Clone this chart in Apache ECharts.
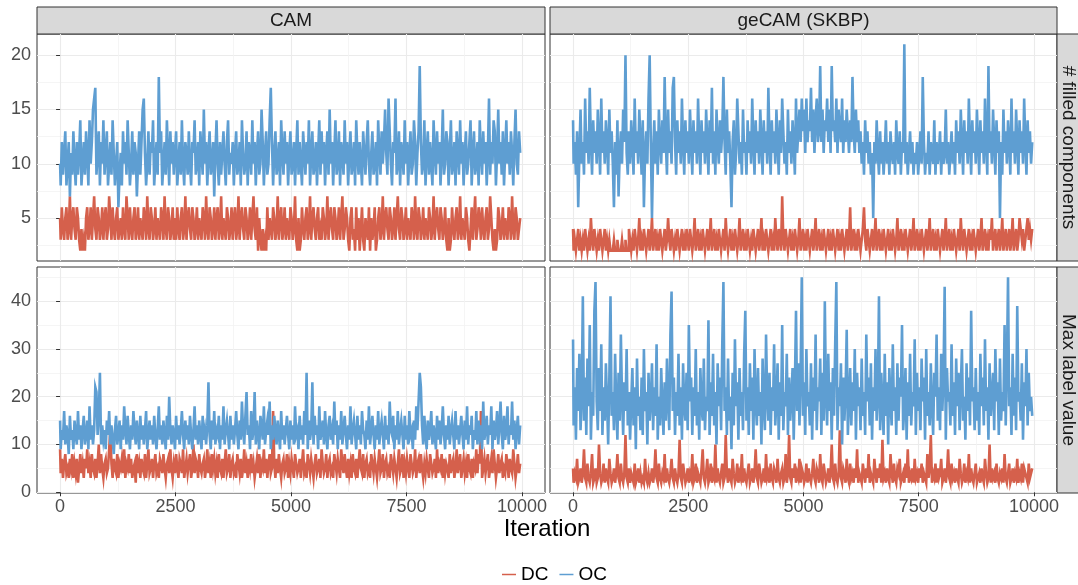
<!DOCTYPE html>
<html>
<head>
<meta charset="utf-8">
<script src="https://cdn.jsdelivr.net/npm/echarts@6/dist/echarts.min.js"></script>
<style>
html, body { margin: 0; padding: 0; background: #fff; }
#chart { width: 1078px; height: 585px; }
</style>
</head>
<body>
<div id="chart"></div>
<script>
// Thinned MCMC traces: one recorded state every ITER_STEP iterations
const ITER_STEP = 25;

const methods = ['CAM', 'geCAM (SKBP)'];
const statistics = ['# filled components', 'Max label value'];
const chainNames = ['DC', 'OC'];

const xTicks = [0, 2500, 5000, 7500, 10000];
const xMinorTicks = [1250, 3750, 6250, 8750];
const yTicksFilled = [5, 10, 15, 20];
const yMinorFilled = [2.5, 7.5, 12.5, 17.5];
const yTicksMax = [0, 10, 20, 30, 40];
const yMinorMax = [5, 15, 25, 35, 45];

// # filled components — CAM
const camFilledOC = [
10,8,12,9,11,13,8,10,12,7, 11,9,13,10,8,12,9,11,14,8, 10,12,9,13,11,8,14,10,12,15, 16,17,9,11,13,8,12,10,14,9, 11,13,8,10,12,9,14,11,8,10,
12,6,9,11,8,13,10,12,9,14, 11,8,10,13,9,12,11,7,10,13, 9,12,15,16,11,8,10,13,9,12, 11,14,8,10,12,9,18,11,13,8, 10,12,9,14,11,8,13,10,12,9,
11,13,8,10,12,9,14,10,8,12, 11,9,13,10,8,12,11,14,9,10, 12,8,13,11,9,15,10,12,8,11, 13,9,10,12,7,11,14,10,8,12, 9,11,13,10,8,12,14,9,11,10,
12,8,11,13,9,10,12,8,14,11, 9,10,13,8,12,11,9,14,10,12, 8,11,13,9,10,15,12,8,11,13, 9,10,14,17,12,8,11,13,9,10, 12,8,14,11,9,13,10,12,8,11,
13,9,10,12,8,11,14,9,12,10, 8,13,11,9,12,10,14,8,11,13, 9,10,12,8,11,14,9,13,10,12, 8,11,13,9,15,10,12,8,11,14, 9,10,13,8,12,11,9,14,10,12,
8,11,13,9,10,12,8,14,11,9, 12,10,8,13,11,9,12,14,10,8, 11,13,9,10,12,8,14,11,9,13, 10,12,15,11,9,16,13,10,8,12, 11,16,9,10,13,8,12,11,9,14,
10,12,8,11,13,9,10,14,12,8, 11,13,19,12,9,10,14,8,11,13, 9,12,10,8,14,11,9,13,10,12, 8,11,15,9,10,13,12,8,11,14, 9,10,12,8,13,11,9,14,10,12,
8,11,13,9,10,12,14,8,11,13, 9,10,12,8,14,11,9,13,10,12, 8,11,16,9,12,10,14,13,8,11, 15,10,12,9,13,8,11,14,10,12, 9,13,11,8,12,15,10,9,13,11
];
const camFilledDC = [
5,3,6,4,3,5,6,3,4,7, 3,5,6,4,3,6,5,3,2,4, 2,3,2,5,6,3,4,6,3,5, 7,4,3,6,5,3,4,6,3,5, 6,3,4,7,5,3,6,4,3,5,
6,3,4,5,3,6,4,3,7,5, 3,6,4,3,5,6,3,4,6,3, 5,4,3,6,5,3,7,4,3,6, 5,3,4,6,3,5,4,3,6,5, 3,7,4,3,6,5,3,4,6,3,
5,3,6,4,3,5,6,3,4,7, 3,5,6,4,3,6,5,3,4,6, 3,5,4,3,6,5,3,7,4,3, 6,5,3,4,6,3,5,6,3,4, 7,3,5,4,3,6,5,3,4,6,
3,5,6,3,4,7,3,5,6,4, 3,6,5,3,4,6,3,5,7,4, 3,6,2,5,3,2,4,2,3,2, 6,3,5,4,3,6,5,3,4,7, 3,5,6,3,4,6,3,5,4,3,
6,5,3,4,7,3,2,5,2,3, 6,4,3,5,6,3,4,7,3,5, 6,4,3,5,6,3,4,3,6,5, 3,4,7,3,5,6,4,3,6,5, 3,4,6,3,5,7,3,4,6,5,
3,2,5,6,3,4,2,6,3,5, 2,4,6,3,2,5,4,3,6,2, 5,3,4,6,2,3,5,6,3,4, 7,3,5,6,4,3,6,5,3,4, 6,3,5,7,4,3,6,5,3,4,
6,3,5,4,3,6,5,3,7,4, 3,6,5,3,4,6,3,5,4,3, 6,5,3,4,7,3,5,6,4,3, 6,5,3,4,6,3,2,5,2,3, 6,4,3,5,6,3,4,7,3,5,
4,3,6,5,3,2,4,6,3,5, 7,3,4,6,5,3,6,4,3,5, 6,3,4,7,5,3,2,4,2,3, 6,5,3,4,6,3,5,4,3,6, 5,3,7,4,3,6,5,3,4,5
];

// # filled components — geCAM (SKBP)
const geFilledOC = [
14,10,12,9,13,6,11,15,10,12, 9,16,11,13,10,17,12,9,14,11, 13,10,15,12,9,16,11,13,10,14, 12,9,15,11,13,10,6,12,9,14, 7,11,13,10,15,12,20,11,9,13,
10,14,12,9,16,11,13,10,15,12, 9,14,6,11,13,10,16,20,12,5, 11,14,10,13,9,15,12,10,14,11, 18,12,9,15,11,13,10,17,18,12, 9,14,11,13,10,16,12,9,14,11,
13,10,15,12,9,14,11,13,10,16, 12,9,14,11,13,10,15,12,9,14, 11,17,10,13,9,15,12,10,14,11, 13,18,12,9,15,11,13,10,6,12, 14,9,11,16,13,10,12,9,15,11,
12,9,14,11,13,10,16,12,9,14, 11,13,10,15,12,9,14,11,13,10, 17,12,9,14,11,13,10,15,12,9, 14,11,16,13,10,12,9,15,11,13, 10,14,12,9,16,11,13,15,12,16,
13,15,11,16,12,14,13,17,12,15, 11,14,16,12,13,19,12,15,11,14, 13,16,12,15,11,19,13,14,12,16, 11,15,13,12,16,11,14,12,15,13, 11,14,12,18,13,11,15,12,14,11,
13,10,12,9,14,11,13,10,12,9, 11,5,12,10,14,11,9,13,10,12, 9,11,14,10,12,9,13,11,10,12, 9,14,11,10,13,9,12,11,21,10, 12,9,11,13,10,12,9,11,10,12,
9,11,13,10,18,12,9,11,10,13, 9,12,11,10,14,9,12,10,11,13, 9,12,10,11,15,10,12,9,11,13, 10,12,9,14,11,13,10,15,12,9, 14,11,13,10,16,12,9,14,11,13,
10,15,12,9,14,11,13,10,16,12, 9,19,11,13,10,15,12,9,14,11, 13,5,12,9,15,11,13,10,14,12, 9,16,11,13,10,15,12,9,14,11, 13,10,16,12,9,14,11,13,10,12
];
const geFilledDC = [
4,2,3,2,3,4,2,3,2,3, 2,4,3,2,3,2,5,3,2,4, 3,2,3,2,4,3,2,3,4,2, 3,2,3,2,2,2,3,2,2,3, 2,2,2,3,2,2,3,2,2,4,
3,2,3,2,4,3,2,3,5,2, 3,2,4,3,2,3,4,2,3,5, 2,3,4,2,3,2,4,3,2,3, 4,2,3,5,3,2,4,3,2,3, 2,4,3,2,3,4,2,3,2,4,
3,2,4,3,2,3,5,2,3,4, 2,3,2,4,3,2,3,4,2,3, 5,2,3,4,2,3,2,4,3,2, 3,4,2,5,3,2,3,4,2,3, 2,4,3,2,3,5,2,3,4,2,
3,2,4,3,2,3,2,4,3,2, 3,4,2,3,5,2,3,2,4,3, 2,3,4,2,3,2,5,3,2,4, 3,2,7,3,2,4,3,2,3,4, 2,3,2,4,3,2,3,5,2,3,
4,2,3,2,4,3,2,3,4,2, 3,5,2,3,4,2,3,2,4,3, 2,3,4,2,3,2,4,3,2,3, 4,2,3,2,4,3,2,3,4,2, 3,6,2,3,4,2,3,2,4,3,
2,3,4,6,3,2,4,3,2,3, 4,2,3,5,2,3,4,2,3,2, 4,3,2,3,4,2,3,2,4,3, 2,3,5,2,3,4,2,3,2,4, 3,2,3,4,2,3,5,2,3,4,
2,3,2,4,3,2,3,4,2,3, 5,2,3,4,2,3,2,4,3,2, 3,4,2,3,5,2,3,4,2,3, 2,4,3,2,3,4,2,5,3,2, 4,3,2,3,4,2,3,2,4,3,
2,3,4,2,3,5,2,3,4,2, 3,2,4,3,5,2,3,4,2,3, 4,2,3,5,2,3,4,2,3,4, 2,3,5,2,3,4,2,3,5,4, 3,4,2,3,4,5,3,4,3,4
];

// Max label value — CAM
const camMaxOC = [
15,9,13,11,17,10,14,12,8,16, 11,13,9,15,12,10,17,11,14,9, 13,16,10,12,15,9,18,11,14,10, 13,22,21,12,16,25,10,14,11,13, 9,15,12,17,10,14,11,8,13,16,
10,12,15,9,14,11,18,13,10,16, 12,9,14,11,17,13,10,15,12,9, 16,11,14,10,13,17,9,12,15,11, 14,10,16,12,9,13,18,11,14,10, 15,12,9,16,11,20,13,10,14,12,
9,16,11,14,10,13,17,12,9,15, 11,14,10,16,12,9,13,18,11,14, 10,15,12,9,16,11,13,10,14,23, 12,9,15,11,17,10,13,12,16,9, 14,11,18,10,13,15,12,9,16,11,
14,10,13,17,12,9,15,11,19,13, 10,16,21,12,14,9,17,11,13,21, 10,15,12,9,16,14,11,18,10,13, 15,12,19,9,14,11,16,13,10,15, 12,9,17,11,14,10,13,16,12,9,
15,11,14,10,18,12,13,9,16,11, 14,10,17,12,25,9,15,11,13,23, 10,16,12,14,9,18,11,13,15,10, 17,12,9,14,16,11,13,10,19,12, 15,9,14,11,17,10,13,16,12,9,
14,11,18,10,13,15,12,9,16,11, 14,10,17,13,12,9,15,11,18,10, 13,16,12,9,14,11,17,10,13,15, 12,9,16,11,14,10,19,13,12,16, 9,14,11,17,10,13,15,12,9,16,
11,14,10,17,12,13,9,15,11,18, 13,19,25,22,14,10,16,12,9,15, 11,13,17,10,14,12,9,16,11,15, 10,13,18,12,9,14,11,16,10,13, 15,12,9,17,11,14,10,13,16,12,
9,15,11,18,10,14,12,16,9,13, 11,17,10,15,12,14,9,19,11,13, 16,10,14,12,18,9,15,11,13,17, 10,14,19,12,9,16,11,13,18,10, 14,12,19,11,15,9,13,16,10,14
];
const camMaxDC = [
9,4,7,3,6,8,4,5,3,7, 5,8,3,6,4,7,2,5,8,4, 6,3,7,5,9,4,6,3,8,5, 4,7,3,6,10,4,8,5,3,6, 7,4,5,9,13,6,3,7,5,4,
8,3,6,5,7,4,9,3,6,5, 8,4,7,3,5,6,2,8,4,6, 3,7,5,4,8,3,6,9,4,5, 7,3,6,8,4,5,3,7,6,4, 8,5,3,6,7,4,9,5,3,6,
4,8,5,3,7,6,4,9,3,5, 7,4,6,8,3,5,10,4,7,6, 3,8,5,4,6,7,3,5,9,4, 6,3,8,5,7,4,6,3,8,5, 4,7,3,6,9,4,5,8,3,6,
7,4,5,3,8,6,4,7,3,5, 9,4,6,3,7,5,8,4,6,3, 5,7,4,8,3,6,5,9,4,7, 3,6,8,4,5,17,6,3,7,4, 8,5,3,6,7,4,5,8,3,6,
4,7,5,3,8,6,4,5,7,3, 6,9,4,5,3,8,6,4,7,5, 3,6,8,4,5,7,3,9,6,4, 5,8,3,6,7,4,5,3,8,6, 4,7,5,3,9,6,4,8,5,3,
7,4,6,3,8,5,4,7,3,6, 9,5,4,8,3,6,7,4,5,3, 8,6,4,7,5,3,6,9,4,5, 8,3,6,7,4,5,3,8,6,4, 7,5,3,6,9,4,5,8,3,6,
4,7,5,3,8,6,4,5,9,3, 6,7,4,8,5,3,6,4,7,5, 3,8,6,4,5,7,3,9,4,6, 5,8,3,7,4,6,5,3,8,4, 6,7,3,5,9,4,6,8,3,5,
7,4,6,3,8,5,4,7,3,6, 5,9,4,8,6,17,3,5,7,4, 6,8,3,5,7,4,9,6,3,5, 8,4,6,7,3,5,4,8,6,3, 7,5,4,9,6,3,5,8,4,6
];

// Max label value — geCAM (SKBP)
const geMaxOC = [
32,14,22,11,26,17,29,13,20,41, 15,24,12,28,18,35,11,21,16,38, 44,19,13,26,17,31,12,22,15,27, 19,10,24,41,16,21,13,29,18,11, 25,15,33,20,12,23,17,30,14,21,
11,19,26,14,22,9,28,16,20,13, 24,12,30,17,21,10,25,15,19,27, 13,22,16,31,11,20,14,26,18,12, 23,15,28,19,13,33,42,17,24,12, 21,16,29,14,22,11,27,18,15,25,
13,35,19,24,12,22,16,30,14,21, 11,26,18,15,28,13,20,17,36,12, 23,16,29,14,21,10,27,18,24,13, 31,44,17,22,12,28,15,20,9,25, 14,32,18,23,11,26,16,21,13,29,
38,15,22,12,27,17,24,11,30,19, 14,26,16,21,10,28,18,13,33,20, 15,25,12,22,17,31,14,19,27,11, 23,16,35,13,21,18,29,12,24,15, 20,26,11,22,38,17,27,14,25,45,
16,23,12,30,18,21,14,27,11,24, 17,33,13,22,19,28,12,25,15,40, 20,14,29,17,23,11,26,16,31,44, 13,22,18,27,10,24,15,21,34,12, 19,26,14,23,17,30,11,25,18,22,
13,28,16,21,12,33,19,24,14,27, 11,22,17,30,15,20,41,13,25,18, 12,29,16,23,10,26,19,14,31,17, 22,12,27,15,24,20,35,13,18,26, 11,23,16,29,14,21,18,32,12,25,
17,22,13,28,19,24,11,30,16,21, 14,27,18,12,25,20,33,15,22,13, 29,17,24,43,11,26,19,21,14,31, 16,23,12,28,18,25,13,22,30,15, 20,11,27,17,24,14,38,19,22,13,
26,15,21,12,29,18,24,14,32,17, 22,11,27,16,20,25,13,30,19,23, 12,28,15,21,17,35,14,26,45,18, 22,12,29,16,24,13,39,19,21,15, 27,11,23,18,30,14,25,17,20,16
];
const geMaxDC = [
5,2,4,3,7,2,3,5,2,4, 9,3,2,6,3,2,4,8,2,3, 5,2,3,10,4,2,3,6,2,5, 3,2,7,4,2,3,5,2,4,8, 3,2,6,3,2,4,12,3,2,5,
2,4,3,2,6,2,3,5,2,4, 2,3,2,7,3,2,4,2,3,5, 2,4,9,3,2,6,3,2,4,3, 8,2,5,3,2,4,7,3,2,5, 3,2,4,11,3,2,6,4,2,3,
5,2,4,3,8,2,3,6,2,4, 3,2,5,9,3,2,4,7,2,3, 6,2,4,3,10,2,5,3,2,4, 6,2,3,12,4,2,5,3,2,7, 4,2,3,6,2,4,3,8,2,5,
3,2,4,6,2,3,5,2,4,9, 3,2,6,4,2,3,5,2,8,3, 4,2,6,3,2,5,4,2,7,3, 2,4,5,2,3,8,2,4,12,3, 2,5,3,6,2,4,3,7,2,5,
4,2,3,6,2,5,3,2,4,7, 3,2,5,4,2,8,3,2,6,4, 2,3,5,2,4,10,3,2,6,3, 2,4,13,3,2,5,4,2,7,3, 2,6,3,4,2,5,3,9,2,4,
3,2,6,4,2,5,3,8,2,4, 3,2,7,4,2,5,3,6,2,11, 3,4,2,5,3,2,8,4,2,6, 3,2,5,4,7,2,3,4,2,6, 3,9,2,4,3,5,2,7,3,4,
2,5,3,6,2,4,3,2,8,3, 5,12,2,4,3,6,2,5,3,4, 7,2,3,5,2,4,9,3,2,6, 3,4,2,5,3,2,7,4,2,3, 6,2,4,3,8,2,5,3,2,4,
6,2,3,4,2,5,3,2,7,4, 2,3,10,2,5,3,4,2,6,3, 2,4,3,5,2,8,3,2,4,6, 2,3,5,2,4,3,7,2,4,3, 6,2,5,4,3,2,6,3,4,5
];

const COLORS = { DC: '#d5604c', OC: '#5e9ed2' };
const FONT = '"Liberation Sans", Arial, Helvetica, sans-serif';

// Facet panel geometry (pixels)
const colLeft = [37, 550];
const colWidth = [508, 507];
const rowTop = [34, 267];
const rowHeight = [227, 226];
const yRange = [[1.05, 21.95], [-0.15, 47.15]];
const yMajor = [yTicksFilled, yTicksMax];
const yMinor = [yMinorFilled, yMinorMax];

const panels = [
  { row: 0, col: 0, DC: camFilledDC, OC: camFilledOC },
  { row: 0, col: 1, DC: geFilledDC, OC: geFilledOC },
  { row: 1, col: 0, DC: camMaxDC, OC: camMaxOC },
  { row: 1, col: 1, DC: geMaxDC, OC: geMaxOC }
];

const grid = [], xAxis = [], yAxis = [], series = [], graphic = [];

const labelStyle = { fontSize: 18, color: '#4d4d4d', fontFamily: FONT, formatter: v => String(v) };

panels.forEach((p, gi) => {
  grid.push({
    left: colLeft[p.col], top: rowTop[p.row],
    width: colWidth[p.col], height: rowHeight[p.row],
    show: true, borderColor: '#333333', borderWidth: 1, backgroundColor: '#ffffff'
  });
  const showX = p.row === 1;
  const showY = p.col === 0;
  // major x axis (the traces are plotted on this one)
  xAxis.push({
    type: 'value', gridIndex: gi, min: -500, max: 10500,
    axisLine: { show: false },
    axisTick: { show: showX, customValues: xTicks, length: 4, lineStyle: { color: '#333333' } },
    axisLabel: Object.assign({ show: showX, customValues: xTicks, margin: 5 }, labelStyle),
    splitLine: { show: true, lineStyle: { color: '#ebebeb', width: 1.1 } }
  });
  // minor x grid lines
  xAxis.push({
    type: 'value', gridIndex: gi, min: -500, max: 10500,
    axisLine: { show: false },
    axisTick: { show: false, customValues: xMinorTicks },
    axisLabel: { show: false, customValues: xMinorTicks },
    splitLine: { show: true, lineStyle: { color: '#f2f2f2', width: 0.8 } }
  });
  const yr = yRange[p.row];
  yAxis.push({
    type: 'value', gridIndex: gi, min: yr[0], max: yr[1],
    axisLine: { show: false },
    axisTick: { show: showY, customValues: yMajor[p.row], length: 4, lineStyle: { color: '#333333' } },
    axisLabel: Object.assign({ show: showY, customValues: yMajor[p.row], margin: 6 }, labelStyle),
    splitLine: { show: true, lineStyle: { color: '#ebebeb', width: 1.1 } }
  });
  yAxis.push({
    type: 'value', gridIndex: gi, min: yr[0], max: yr[1],
    axisLine: { show: false },
    axisTick: { show: false, customValues: yMinor[p.row] },
    axisLabel: { show: false, customValues: yMinor[p.row] },
    splitLine: { show: true, lineStyle: { color: '#f2f2f2', width: 0.8 } }
  });
  chainNames.forEach(name => {
    series.push({
      name: name, type: 'line', step: 'middle',
      xAxisIndex: gi * 2, yAxisIndex: gi * 2,
      data: p[name].map((v, i) => [i * ITER_STEP, v]),
      showSymbol: false, symbol: 'none', silent: true,
      animation: false,
      lineStyle: { color: COLORS[name], width: 2.6, opacity: 1, join: 'miter', cap: 'butt' },
      itemStyle: { color: COLORS[name] }
    });
  });
});

// column strips
methods.forEach((m, c) => {
  graphic.push({
    type: 'rect', shape: { x: colLeft[c], y: 7, width: colWidth[c], height: 27 },
    style: { fill: '#d9d9d9', stroke: '#333333', lineWidth: 1 }
  });
  graphic.push({
    type: 'text', x: colLeft[c] + colWidth[c] / 2, y: 21,
    style: { text: m, fill: '#1a1a1a', font: '19px ' + FONT, align: 'center', verticalAlign: 'middle' }
  });
});
// row strips
statistics.forEach((s, r) => {
  graphic.push({
    type: 'rect', shape: { x: 1057, y: rowTop[r], width: 30, height: rowHeight[r] },
    style: { fill: '#d9d9d9', stroke: '#333333', lineWidth: 1 }
  });
  graphic.push({
    type: 'text', x: 1068, y: rowTop[r] + rowHeight[r] / 2, rotation: -Math.PI / 2,
    style: { text: s, fill: '#1a1a1a', font: '19px ' + FONT, align: 'center', verticalAlign: 'middle' }
  });
});
// x axis title
graphic.push({
  type: 'text', x: 547, y: 529,
  style: { text: 'Iteration', fill: '#000000', font: '24px ' + FONT, align: 'center', verticalAlign: 'middle' }
});

const chart = echarts.init(document.getElementById('chart'), null, { renderer: 'canvas' });
chart.setOption({
  animation: false,
  backgroundColor: '#ffffff',
  grid, xAxis, yAxis, series, graphic,
  legend: {
    data: chainNames, left: 497, top: 560,
    icon: 'rect', itemWidth: 14, itemHeight: 1.5, itemGap: 11,
    textStyle: { fontSize: 19, color: '#000000', fontFamily: FONT }
  }
});
</script>
</body>
</html>
